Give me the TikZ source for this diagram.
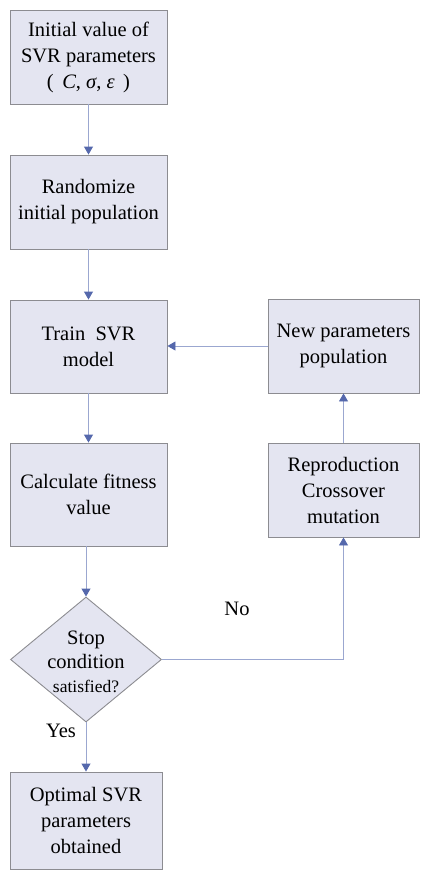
\documentclass[tikz,border=0pt]{standalone}
\usepackage{fontspec}
\setmainfont{Liberation Serif}
\usetikzlibrary{arrows.meta,shapes.geometric}
\definecolor{boxfill}{RGB}{228,229,241}
\definecolor{boxline}{RGB}{140,140,145}
\definecolor{conline}{RGB}{155,167,208}
\definecolor{headblue}{RGB}{85,104,172}
\tikzset{
  box/.style={draw=boxline, fill=boxfill, line width=0.9pt, inner sep=0pt, align=center,
    font=\fontsize{20.5}{26}\selectfont},
  dia/.style={draw=boxline, fill=boxfill, line width=0.9pt, diamond, inner sep=0pt,
    minimum width=151pt, minimum height=125pt},
  conn/.style={draw=conline, line width=0.9pt, -{Triangle[length=8pt,width=9pt,color=headblue]}},
  lbl/.style={font=\fontsize{20.5}{26}\selectfont, inner sep=0pt}
}
\begin{document}
\begin{tikzpicture}[x=1pt,y=-1pt]
\useasboundingbox (0,0) rectangle (422,870);
\node[box, minimum width=157pt, minimum height=94pt] (b1) at (88.5,57)
  {Initial value of\\SVR parameters\\(\, \textit{C}, \textit{σ}, \textit{ε} \,)};
\node[box, minimum width=157pt, minimum height=94pt] (b2) at (88.5,202)
  {Randomize\\initial population};
\node[box, minimum width=157pt, minimum height=93pt] (b3) at (88.5,346.5)
  {Train\ \ SVR\\model};
\node[box, minimum width=157pt, minimum height=103pt] (b4) at (88.5,494.5)
  {Calculate fitness\\value};
\node[box, minimum width=151pt, minimum height=94pt] (np) at (343.5,346)
  {New parameters\\population};
\node[box, minimum width=151pt, minimum height=94pt] (rp) at (343.5,490)
  {Reproduction\\Crossover\\mutation};
\node[dia] (d) at (86,659.5) {};
\node[align=center, inner sep=0pt, font=\fontsize{20.5}{24}\selectfont] (dt) at (86,662)
  {Stop\\condition\\{\fontsize{17.5}{20}\selectfont satisfied?}};
\node[box, minimum width=152pt, minimum height=97pt] (op) at (86,820.5)
  {Optimal SVR\\parameters\\obtained};
\node[lbl] (no) at (237,609) {No};
\node[lbl] (yes) at (61,731) {Yes};
\draw[conn] (b1) -- (b2);
\draw[conn] (b2) -- (b3);
\draw[conn] (b3) -- (b4);
\draw[conn] (b4.south -| d.north) -- (d.north);
\draw[conn] (d.south) -- (op.north);
\draw[conn] (d.east) -| (rp.south);
\draw[conn] (rp) -- (np);
\draw[conn] (np.west) -- (b3.east |- np.west);
\end{tikzpicture}
\end{document}
